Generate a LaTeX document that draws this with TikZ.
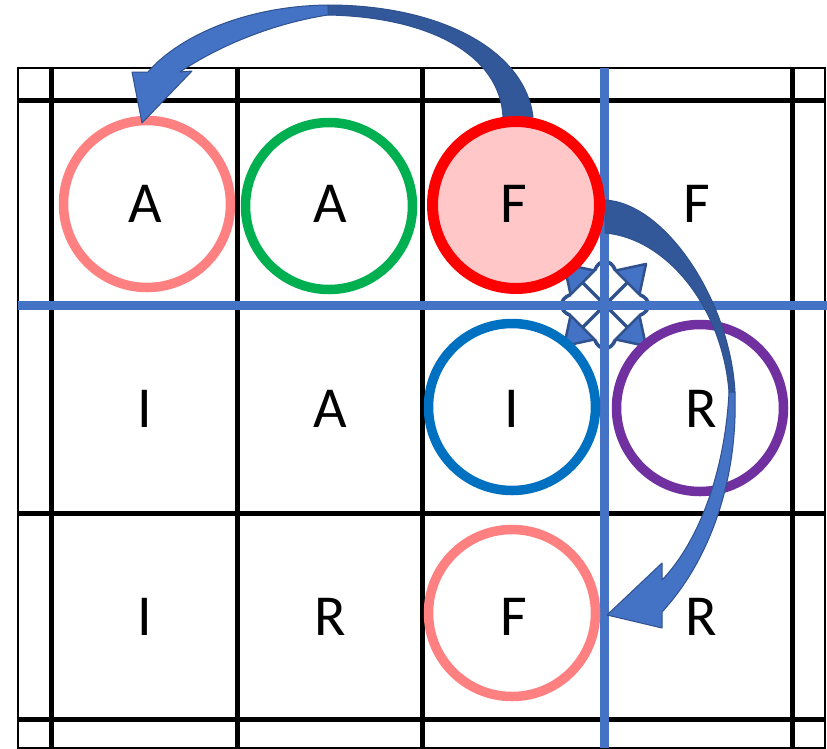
\documentclass[tikz,border=0pt]{standalone}
\usepackage{fontspec}
\setmainfont{Carlito}
\definecolor{lineblue}{RGB}{68,114,196}
\definecolor{arrlight}{RGB}{68,114,196}
\definecolor{arrdark}{RGB}{50,88,154}
\definecolor{arroutline}{RGB}{47,82,143}
\definecolor{salmon}{RGB}{255,128,128}
\definecolor{ringgreen}{RGB}{0,176,80}
\definecolor{ringred}{RGB}{255,0,0}
\definecolor{redfill}{RGB}{255,199,199}
\definecolor{ringblue}{RGB}{0,112,192}
\definecolor{ringpurple}{RGB}{112,48,160}
\begin{document}
\begin{tikzpicture}[x=1pt,y=-1pt,
  gridline/.style={line width=5pt, black},
  borderline/.style={line width=2pt, black},
  blueline/.style={line width=9pt, lineblue},
  ring/.style={circle, minimum size=167pt, inner sep=0pt, outer sep=0pt, line width=9.5pt},
  letter/.style={font=\fontsize{58}{60}\selectfont, inner sep=0pt, anchor=base},
  arrowlight/.style={fill=arrlight, draw=arroutline, line width=1pt, line join=round},
  arrowdark/.style={fill=arrdark, draw=arroutline, line width=1pt, line join=round},
  symline/.style={draw=arroutline, line width=3.5pt},
  symhead/.style={fill=arrlight, draw=arroutline, line width=2.5pt, line join=round}]
\useasboundingbox (0,0) rectangle (827,748);
\fill[white] (0,0) rectangle (827,748);
% grid
\draw[gridline] (51,68) -- (51,748);
\draw[gridline] (237,68) -- (237,748);
\draw[gridline] (422,68) -- (422,748);
\draw[gridline] (792,68) -- (792,748);
\draw[gridline] (18,100) -- (825,100);
\draw[gridline] (18,513) -- (825,513);
\draw[gridline] (18,719) -- (825,719);
\draw[borderline] (18,68) rectangle (825,748);
% move symbol
\begin{scope}[shift={(605,305)}, yscale=-1]
  \foreach \a in {45,135,225,315} {
    \draw[symline] (0,0) -- (\a:36);
    \draw[symline] (\a+28:36) .. controls (\a+38:47) and (\a+52:47) .. (\a+62:36);
  }
  \foreach \a in {45,135,225,315} {
    \filldraw[symhead] (\a:58) -- (\a-28:36) -- (\a+28:36) -- cycle;
  }
\end{scope}
% blue lines
\draw[blueline] (604,68) -- (604,748);
\draw[blueline] (18,305) -- (827,305);
% rings
\node[ring, draw=salmon] (ringA1) at (147,204) {};
\node[ring, draw=ringgreen] (ringA2) at (329,206) {};
\node[ring, draw=ringblue] (ringI) at (512,407) {};
\node[ring, draw=ringpurple] (ringR) at (700,408) {};
\node[ring, draw=salmon] (ringF) at (512,613) {};
% letters
\node[letter] (l11) at (145,222) {A};
\node[letter] (l12) at (330,222) {A};
\node[letter] (l14) at (697,222) {F};
\node[letter] (l21) at (145,427) {I};
\node[letter] (l22) at (330,427) {A};
\node[letter] (l23) at (512,427) {I};
\node[letter] (l24) at (701,427) {R};
\node[letter] (l31) at (145,635) {I};
\node[letter] (l32) at (330,635) {R};
\node[letter] (l33) at (514,635) {F};
\node[letter] (l34) at (701,635) {R};
% arrow 1 (top, to the left)
\path[arrowdark] (533,117) .. controls (525,50) and (440,5) .. (328,5) -- (328,15) .. controls (430,17) and (500,55) .. (503,117) -- cycle;
\path[arrowlight] (328,5) .. controls (240,6) and (175,40) .. (148,72) -- (132,72) -- (142,123) -- (192,71) -- (180,72) .. controls (220,45) and (275,23) .. (328,15) -- cycle;
% arrow 2 (right, downward)
\path[arrowdark] (605,200) .. controls (665,203) and (730,300) .. (735,392) -- (729,392) .. controls (722,305) and (665,238) .. (605,233) -- cycle;
\path[arrowlight] (735,392) .. controls (738,480) and (710,560) .. (662,612) -- (662,628) -- (607,615) -- (662,563) -- (662,580) .. controls (700,540) and (725,470) .. (729,392) -- cycle;
% red filled ring
\node[ring, draw=ringred, fill=redfill, line width=11pt] (ringF1) at (516,205) {};
\node[letter] (l13) at (514,222) {F};
\end{tikzpicture}
\end{document}
